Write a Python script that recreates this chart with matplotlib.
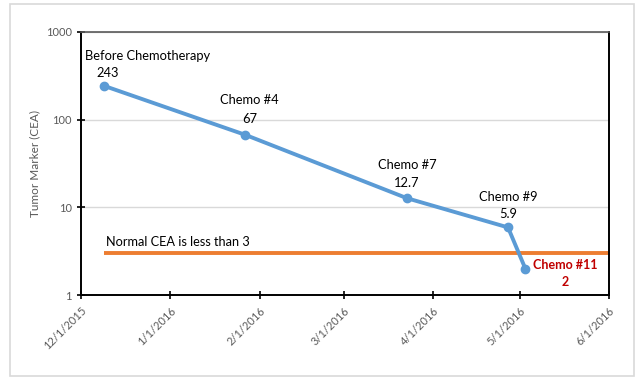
import numpy as np
import matplotlib.pyplot as plt
import matplotlib.dates as mdates
from matplotlib.patches import Rectangle
from datetime import datetime

dates = ['2015-12-09', '2016-01-27', '2016-03-23', '2016-04-27', '2016-05-03']
cea = [243, 67, 12.7, 5.9, 2]
names = ['Before Chemotherapy', 'Chemo #4', 'Chemo #7', 'Chemo #9', 'Chemo #11']
normal_level = 3
normal_span = ['2015-12-09', '2016-06-01']
xticks = ['2015-12-01', '2016-01-01', '2016-02-01', '2016-03-01',
          '2016-04-01', '2016-05-01', '2016-06-01']

d = [datetime.strptime(s, '%Y-%m-%d') for s in dates]
ns = [datetime.strptime(s, '%Y-%m-%d') for s in normal_span]
xt = [datetime.strptime(s, '%Y-%m-%d') for s in xticks]

plt.rcParams['font.family'] = ['Lato', 'DejaVu Sans']

fig = plt.figure(figsize=(6.4, 3.82), dpi=100)
# outer chart frame
fig.patches.append(Rectangle((10/640, 1-376/382), 624/640, 372/382,
                             transform=fig.transFigure, fill=False,
                             edgecolor='#d9d9d9', lw=1.2))
ax = fig.add_axes([81/640, 1-295/382, 528/640, 263/382])

ax.plot(ns, [normal_level, normal_level], color='#ED7D31', lw=2.8, solid_capstyle='butt')
ax.plot(d, cea, color='#5B9BD5', lw=2.8, marker='o', ms=6)

ax.set_yscale('log')
ax.set_ylim(1, 1000)
ax.set_xlim(xt[0], xt[-1])
ax.set_xticks(xt)
ax.xaxis.set_major_formatter(plt.FuncFormatter(
    lambda v, p: '{0.month}/{0.day}/{0.year}'.format(mdates.num2date(v))))
ax.set_yticks([1, 10, 100, 1000])
ax.set_yticklabels(['1', '10', '100', '1000'])
ax.yaxis.set_minor_locator(plt.NullLocator())
plt.setp(ax.get_xticklabels(), rotation=45, ha='right', rotation_mode='anchor')
ax.tick_params(axis='both', direction='inout', length=6, width=1.2, colors='black',
               labelcolor='#595959', labelsize=8)
ax.tick_params(axis='x', pad=4)
ax.grid(axis='y', color='#d9d9d9', lw=1)
ax.set_axisbelow(True)
for s in ['left', 'bottom', 'right']:
    ax.spines[s].set_linewidth(1.4)
    ax.spines[s].set_color('black')
ax.spines['top'].set_color('#595959')
ax.spines['top'].set_linewidth(1.2)
ax.set_ylabel('Tumor Marker (CEA)', color='#595959', fontsize=8.5, labelpad=4)

# data labels: (dx, dy) in pixels for name line and value line
name_off = [(43, 30), (4, 35), (0, 33), (0, 30), (40, 4)]
val_off = [(4, 13), (4, 16), (0, 15), (0, 13), (40, -13)]
for i in range(len(cea)):
    if i == len(cea) - 1:
        kw = dict(color='#C00000', fontweight='bold', fontsize=9)
    else:
        kw = dict(color='black', fontsize=9.3)
    ax.annotate(names[i], (d[i], cea[i]), xytext=name_off[i], textcoords='offset pixels',
                ha='center', va='center', **kw)
    ax.annotate('{0:g}'.format(cea[i]), (d[i], cea[i]), xytext=val_off[i],
                textcoords='offset pixels', ha='center', va='center', **kw)

ax.annotate('Normal CEA is less than 3', (ns[0], normal_level), xytext=(2, 11),
            textcoords='offset pixels', ha='left', va='center', fontsize=9.2)

fig.savefig('out.png', dpi=100)
